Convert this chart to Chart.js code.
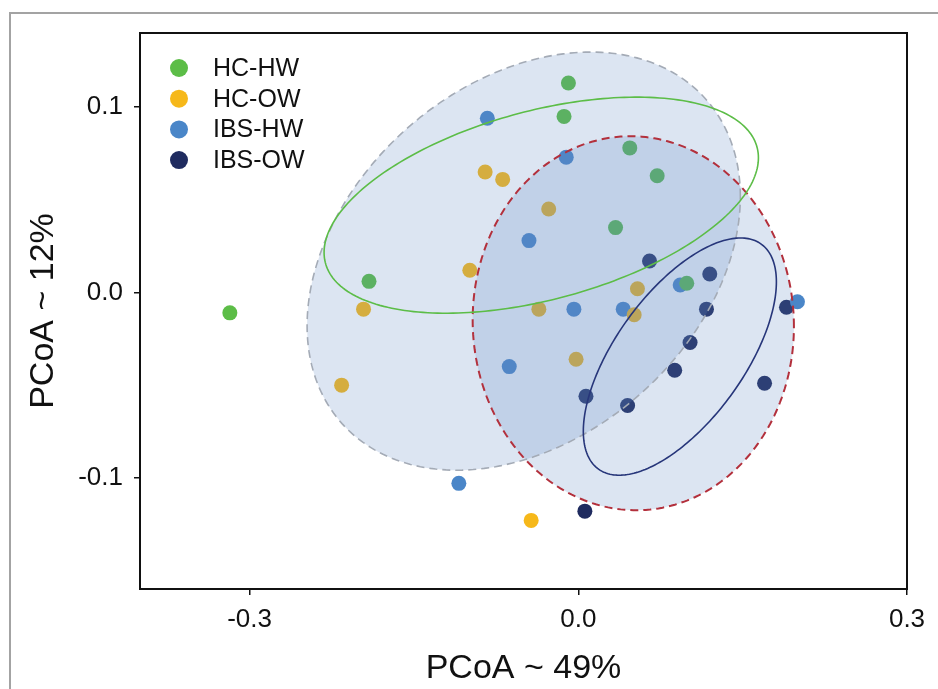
<!DOCTYPE html>
<html>
<head>
<meta charset="utf-8">
<script src="https://cdn.jsdelivr.net/npm/chart.js@4.4.0/dist/chart.umd.min.js"></script>
<style>
html, body { margin: 0; padding: 0; background: #fff; overflow: hidden; }
#frame { position: absolute; left: 9px; top: 12px; width: 1000px; height: 1000px;
         border-left: 2px solid #a3a3a3; border-top: 2px solid #a3a3a3; }
#wrap { position: absolute; left: 0; top: 0; width: 938px; height: 689px; }
</style>
</head>
<body>
<div id="frame"></div>
<div id="wrap"><canvas id="pcoa" width="938" height="689"></canvas></div>
<script>
// groups
var groups = ['HC-HW', 'HC-OW', 'IBS-HW', 'IBS-OW'];

// sample coordinates (PCoA1, PCoA2)
var hcHwX = [-0.318, -0.191, -0.009, -0.013, 0.047, 0.072, 0.034, 0.099];
var hcHwY = [-0.011, 0.006, 0.113, 0.095, 0.078, 0.063, 0.035, 0.005];

var hcOwX = [-0.196, -0.099, -0.085, -0.069, -0.027, 0.054, -0.036, 0.051, -0.216, -0.002, -0.043];
var hcOwY = [-0.009, 0.012, 0.065, 0.061, 0.045, 0.002, -0.009, -0.012, -0.050, -0.036, -0.123];

var ibsHwX = [-0.083, -0.011, -0.045, 0.093, -0.004, 0.041, 0.200, -0.109, -0.063];
var ibsHwY = [0.094, 0.073, 0.028, 0.004, -0.009, -0.009, -0.005, -0.103, -0.040];

var ibsOwX = [0.065, 0.120, 0.117, 0.190, 0.102, 0.088, 0.170, 0.007, 0.045, 0.006];
var ibsOwY = [0.017, 0.010, -0.009, -0.008, -0.027, -0.042, -0.049, -0.056, -0.061, -0.118];

// ellipses: centre, half extent along x and y, phase (deg) of the top point
var ellipseCx = [-0.0498, 0.0502, -0.0338, 0.0927];
var ellipseCy = [0.0169, -0.0166, 0.0471, -0.0346];
var ellipseRx = [0.1977, 0.1466, 0.1982, 0.0881];
var ellipseRy = [0.1128, 0.1009, 0.0583, 0.0640];
var ellipsePhase = [72, 91, 64, 51];

// axis ticks
var xTicks = [-0.3, 0.0, 0.3];
var yTicks = [-0.1, 0.0, 0.1];

var colors = ['#5cbd47', '#f6b81a', '#4a86c8', '#1f2b5f'];
var ellipseStyles = [
    { stroke: '#a4abb6', dash: [8, 5], width: 1.6, fill: 'rgba(95,135,195,0.22)' },
    { stroke: '#b3303c', dash: [8, 5], width: 2, fill: 'rgba(95,135,195,0.22)' },
    { stroke: '#5cbd47', dash: [], width: 1.6, fill: null },
    { stroke: '#27367a', dash: [], width: 1.6, fill: null }
];

function toPoints(xs, ys) {
    var pts = [];
    for (var i = 0; i < xs.length; i++) {
        pts.push({ x: xs[i], y: ys[i] });
    }
    return pts;
}

var allX = [hcHwX, hcOwX, ibsHwX, ibsOwX];
var allY = [hcHwY, hcOwY, ibsHwY, ibsOwY];
var datasets = [];
for (var g = 0; g < groups.length; g++) {
    datasets.push({
        label: groups[g],
        data: toPoints(allX[g], allY[g]),
        backgroundColor: colors[g],
        borderWidth: 0,
        pointRadius: 7.5,
        pointHoverRadius: 7.5
    });
}

function traceEllipse(ctx, xs, ys, i) {
    var phi = ellipsePhase[i] * Math.PI / 180;
    ctx.beginPath();
    for (var k = 0; k <= 240; k++) {
        var t = 2 * Math.PI * k / 240;
        var px = xs.getPixelForValue(ellipseCx[i] + ellipseRx[i] * Math.cos(t));
        var py = ys.getPixelForValue(ellipseCy[i] + ellipseRy[i] * Math.cos(t - phi));
        if (k == 0) ctx.moveTo(px, py); else ctx.lineTo(px, py);
    }
    ctx.closePath();
}

var ellipsePlugin = {
    id: 'ellipses',
    afterDatasetsDraw: function (chart) {
        var ctx = chart.ctx, xs = chart.scales.x, ys = chart.scales.y;
        ctx.save();
        for (var i = 0; i < ellipseCx.length; i++) {
            if (!ellipseStyles[i].fill) continue;
            traceEllipse(ctx, xs, ys, i);
            ctx.fillStyle = ellipseStyles[i].fill;
            ctx.fill();
        }
        for (var i = 0; i < ellipseCx.length; i++) {
            traceEllipse(ctx, xs, ys, i);
            ctx.setLineDash(ellipseStyles[i].dash);
            ctx.lineWidth = ellipseStyles[i].width;
            ctx.strokeStyle = ellipseStyles[i].stroke;
            ctx.stroke();
        }
        ctx.restore();
    },
    afterDraw: function (chart) {
        var ctx = chart.ctx, a = chart.chartArea;
        ctx.save();
        // box round the plot
        ctx.strokeStyle = '#111';
        ctx.lineWidth = 2;
        ctx.strokeRect(a.left, a.top, a.right - a.left, a.bottom - a.top);
        // legend, top left inside the plot
        ctx.font = '25px "Liberation Sans", Arial, sans-serif';
        ctx.textBaseline = 'middle';
        chart.data.datasets.forEach(function (ds, i) {
            var y = a.top + 35 + i * 30.7;
            ctx.beginPath();
            ctx.arc(a.left + 39, y, 9, 0, 2 * Math.PI);
            ctx.fillStyle = ds.backgroundColor;
            ctx.fill();
            ctx.fillStyle = '#111';
            ctx.fillText(ds.label, a.left + 73, y + 1);
        });
        ctx.restore();
    }
};

var tickFont = { size: 26, family: '"Liberation Sans", Arial, sans-serif' };
var titleFont = { size: 34, family: '"Liberation Sans", Arial, sans-serif' };

new Chart(document.getElementById('pcoa'), {
    type: 'scatter',
    data: { datasets: datasets },
    plugins: [ellipsePlugin],
    options: {
        responsive: false,
        animation: false,
        layout: { padding: { top: 33, right: 31, left: 0, bottom: 0 } },
        plugins: { legend: { display: false }, tooltip: { enabled: false } },
        scales: {
            x: {
                type: 'linear', min: -0.4, max: 0.3,
                afterBuildTicks: function (axis) { axis.ticks = xTicks.map(function (v) { return { value: v }; }); },
                afterFit: function (axis) { axis.height = 100; },
                grid: { drawOnChartArea: false, drawTicks: true, tickLength: 6, color: '#111', lineWidth: 1.5 },
                border: { display: true, color: '#111', width: 2 },
                ticks: { color: '#111', font: tickFont, padding: 9, maxRotation: 0, autoSkip: false,
                         callback: function (v) { return v.toFixed(1); } },
                title: { display: true, text: 'PCoA ~ 49%', color: '#111', font: titleFont, padding: { top: 0, bottom: 0 } }
            },
            y: {
                type: 'linear', min: -0.16, max: 0.14,
                afterBuildTicks: function (axis) { axis.ticks = yTicks.map(function (v) { return { value: v }; }); },
                afterFit: function (axis) { axis.width = 140; },
                grid: { drawOnChartArea: false, drawTicks: true, tickLength: 6, color: '#111', lineWidth: 1.5 },
                border: { display: true, color: '#111', width: 2 },
                ticks: { color: '#111', font: tickFont, padding: 11, autoSkip: false,
                         callback: function (v) { return v.toFixed(1); } },
                title: { display: true, text: 'PCoA ~ 12%', color: '#111', font: titleFont, padding: { top: 23, bottom: 0 } }
            }
        }
    }
});
</script>
</body>
</html>
